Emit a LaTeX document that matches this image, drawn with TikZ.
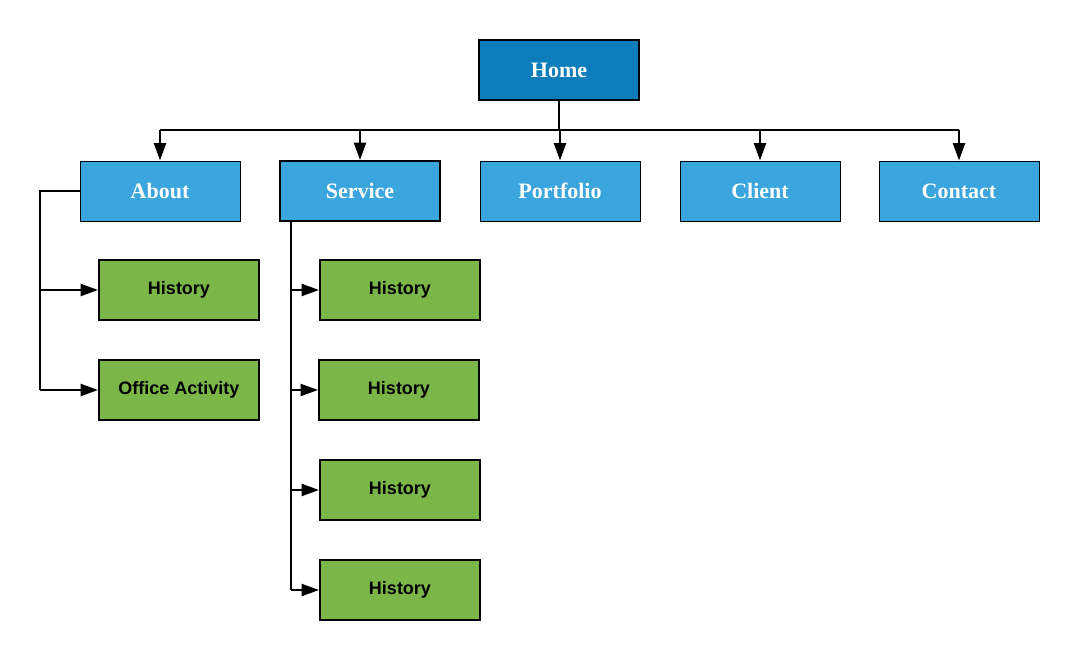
\documentclass[tikz,border=0pt]{standalone}
\usepackage{fontspec}
\setmainfont{Liberation Serif}
\newfontfamily\armfont{Liberation Sans}
\usetikzlibrary{arrows.meta}
\definecolor{homeblue}{HTML}{0E7DBB}
\definecolor{boxblue}{HTML}{3AA6DD}
\definecolor{boxgreen}{HTML}{7AB648}
\tikzset{
  bluebox/.style={draw=black, fill=boxblue, line width=0.75pt, minimum width=120pt, minimum height=45pt, inner sep=0pt, text=white, font=\bfseries\fontsize{16.5}{18}\selectfont},
  homebox/.style={bluebox, fill=homeblue, line width=1.5pt},
  greenbox/.style={draw=black, fill=boxgreen, line width=1.5pt, minimum width=120pt, minimum height=45pt, inner sep=0pt, text=black, font=\armfont\bfseries\fontsize{13.5}{15}\selectfont},
  conn/.style={draw=black, line width=1.5pt, -{Triangle[length=13pt,width=9pt]}},
  plain/.style={draw=black, line width=1.5pt}
}
\begin{document}
\begin{tikzpicture}[x=0.75pt,y=-0.75pt]
\useasboundingbox (0,0) rectangle (1079,660);
% level 1
\node[homebox] (home) at (559,70) {Home};
% level 2
\node[bluebox] (about) at (160,191) {About};
\node[bluebox, line width=1.5pt] (service) at (360,191) {Service};
\node[bluebox] (portfolio) at (560,191) {Portfolio};
\node[bluebox] (client) at (760,191) {Client};
\node[bluebox] (contact) at (959,191) {Contact};
% about children
\node[greenbox] (ah1) at (179,290) {History};
\node[greenbox] (ah2) at (179,390) {Office Activity};
% service children
\node[greenbox] (sh1) at (400,290) {History};
\node[greenbox] (sh2) at (399,390) {History};
\node[greenbox] (sh3) at (400,490) {History};
\node[greenbox] (sh4) at (400,590) {History};
% bus
\coordinate (bus) at (559,130);
\draw[plain] (home.south) -- (bus);
\draw[plain] (about.north |- bus) -- (contact.north |- bus);
\foreach \n in {about,service,portfolio,client,contact}{
  \draw[conn] (\n.north |- bus) -- (\n.north);
}
% about branch
\coordinate (aL) at (40,191);
\draw[plain] (about.west) -- (aL) -- (aL |- ah2.west);
\draw[conn] (aL |- ah1.west) -- (ah1.west);
\draw[conn] (aL |- ah2.west) -- (ah2.west);
% service branch
\coordinate (sL) at (291,221);
\draw[plain] (sL) -- (sL |- sh4.west);
\foreach \n in {sh1,sh2,sh3,sh4}{
  \draw[conn] (sL |- \n.west) -- (\n.west);
}
\end{tikzpicture}
\end{document}
